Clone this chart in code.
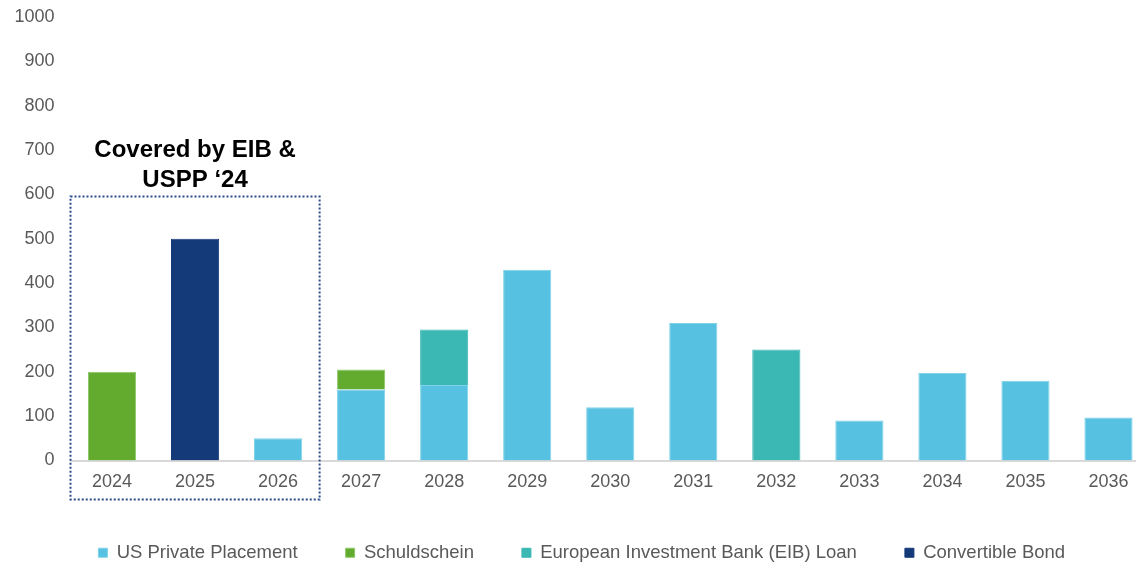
<!DOCTYPE html>
<html>
<head>
<meta charset="utf-8">
<script src="https://cdn.jsdelivr.net/npm/chart.js@4.4.1/dist/chart.umd.min.js"></script>
<style>
  html, body { margin: 0; padding: 0; background: #fff; overflow: hidden; }
  #wrap { position: relative; margin-top: -10px; width: 1150px; height: 582px; }
</style>
</head>
<body>
<div id="wrap"><canvas id="myChart"></canvas></div>
<script>
// maturity profile, EUR m
const years = ["2024", "2025", "2026", "2027", "2028", "2029", "2030", "2031", "2032", "2033", "2034", "2035", "2036"];
const usPrivatePlacement = [0, 0, 50, 160, 170, 430, 120, 310, 0, 90, 197, 180, 97];
const schuldschein = [200, 0, 0, 45, 0, 0, 0, 0, 0, 0, 0, 0, 0];
const eibLoan = [0, 0, 0, 0, 125, 0, 0, 0, 250, 0, 0, 0, 0];
const convertibleBond = [0, 500, 0, 0, 0, 0, 0, 0, 0, 0, 0, 0, 0];

// bracket round the refinanced years
const coveredFrom = 0;
const coveredTo = 2;
const coveredTop = 595;
const coveredText = ["Covered by EIB &", "USPP \u201824"];

const FONT = "'Liberation Sans', Arial, sans-serif";
const GREY = "#595959";

const coveredBox = {
    id: "coveredBox",
    afterDatasetsDraw(chart) {
        const { ctx, scales: { x, y }, chartArea } = chart;
        const half = (x.getPixelForValue(1) - x.getPixelForValue(0)) / 2;
        const left = x.getPixelForValue(coveredFrom) - half;
        const right = x.getPixelForValue(coveredTo) + half;
        const top = y.getPixelForValue(coveredTop);
        const bottom = chartArea.bottom + 39;

        ctx.save();
        ctx.strokeStyle = "#2a4a8c";
        ctx.lineWidth = 2;
        ctx.setLineDash([2, 2]);
        ctx.strokeRect(left, top, right - left, bottom - top);
        ctx.setLineDash([]);

        ctx.fillStyle = "#000";
        ctx.font = "bold 24px " + FONT;
        ctx.textAlign = "center";
        ctx.textBaseline = "middle";
        const cx = (left + right) / 2;
        ctx.fillText(coveredText[0], cx, top - 46);
        ctx.fillText(coveredText[1], cx, top - 16);
        ctx.restore();
    },
};

const ctx = document.getElementById("myChart").getContext("2d");
new window.Chart(ctx, {
    type: "bar",
    data: {
        labels: years,
        datasets: [
            {
                label: "US Private Placement",
                data: usPrivatePlacement,
                backgroundColor: "#56c1e0",
                borderColor: "#7fd2ea",
                borderWidth: 1,
            },
            {
                label: "Schuldschein",
                data: schuldschein,
                backgroundColor: "#62ab2e",
                borderColor: "#8cc766",
                borderWidth: 1,
            },
            {
                label: "European Investment Bank (EIB) Loan",
                data: eibLoan,
                backgroundColor: "#3bb7b4",
                borderColor: "#3bb7b4",
                borderWidth: 1,
            },
            {
                label: "Convertible Bond",
                data: convertibleBond,
                backgroundColor: "#153a7a",
                borderColor: "#153a7a",
                borderWidth: 1,
            },
        ],
    },
    options: {
        responsive: true,
        maintainAspectRatio: false,
        animation: false,
        datasets: {
            bar: {
                categoryPercentage: 1,
                barPercentage: 0.58,
                skipNull: true,
            },
        },
        layout: {
            padding: { left: 13.5, right: 0, top: 0, bottom: 0 },
        },
        plugins: {
            legend: {
                position: "bottom",
                labels: {
                    boxWidth: 9,
                    boxHeight: 9,
                    padding: 48,
                    color: GREY,
                    font: { family: FONT, size: 18.5 },
                },
            },
            tooltip: { enabled: false },
        },
        scales: {
            x: {
                stacked: true,
                grid: { display: false, drawTicks: false },
                border: { color: "#d9d9d9", width: 2 },
                ticks: {
                    color: GREY,
                    padding: 11,
                    font: { family: FONT, size: 18 },
                },
                // keep the legend close under the year labels
                afterFit: (scale) => {
                    scale.height = 35;
                },
            },
            y: {
                stacked: true,
                min: 0,
                max: 1000,
                grid: { display: false, drawTicks: false },
                border: { display: false },
                ticks: {
                    stepSize: 100,
                    color: GREY,
                    padding: 16,
                    font: { family: FONT, size: 18 },
                    callback: (v) => String(v),
                },
                // labels may spill into the left padding
                afterFit: (scale) => {
                    scale.width = 57;
                },
            },
        },
    },
    plugins: [coveredBox],
});
</script>
</body>
</html>
